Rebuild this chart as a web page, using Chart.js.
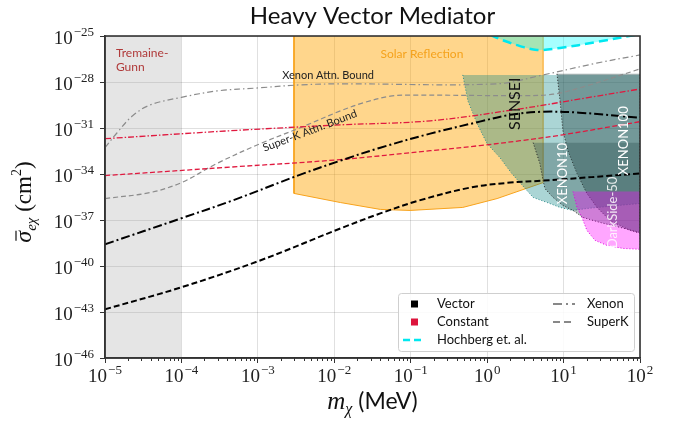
<!DOCTYPE html>
<html>
<head>
<meta charset="utf-8">
<script src="https://cdn.jsdelivr.net/npm/chart.js@4.4.1/dist/chart.umd.min.js"></script>
<style>
  html, body { margin: 0; padding: 0; background: #fff; }
  canvas { display: block; }
</style>
</head>
<body>
<canvas id="chart" width="677" height="423"></canvas>
<script>
// tick positions
const xTicks = [1e-5, 1e-4, 1e-3, 1e-2, 1e-1, 1, 10, 100];
const yTicks = [1e-46, 1e-43, 1e-40, 1e-37, 1e-34, 1e-31, 1e-28, 1e-25];

// bound curves: mass in MeV, cross section in cm^2
const vecXenonM = [1e-5, 1e-4, 4.7e-4, 3.6e-3, 1.2e-2, 4.0e-2, 0.18, 0.8, 2.0, 5.4, 16, 100];
const vecXenonS = [2.6e-39, 1.3e-37, 1.9e-36, 9.1e-35, 7.4e-34, 5.2e-33, 4.3e-32, 2.6e-31, 7.2e-31, 1.15e-30, 1.0e-30, 4.7e-31];

const vecSuperKM = [1e-5, 1e-4, 1.07e-3, 1.2e-2, 4.0e-2, 0.13, 0.6, 2.0, 5.4, 100];
const vecSuperKS = [1.5e-43, 4.1e-42, 2.3e-40, 2.8e-38, 2.7e-37, 1.9e-36, 1.3e-35, 2.75e-35, 3.7e-35, 1.07e-34];

const constXenonM = [1e-5, 4.3e-4, 1.2e-2, 0.18, 2.7, 20, 100];
const constXenonS = [2.0e-32, 6.6e-32, 1.6e-31, 2.95e-31, 1.78e-30, 9.3e-30, 3.5e-29];

const constSuperKM = [1e-5, 4.3e-4, 1.2e-2, 0.18, 0.8, 2.7, 9.8, 100];
const constSuperKS = [7.9e-35, 2.8e-34, 8.7e-34, 3.3e-33, 7.1e-33, 1.48e-32, 3.6e-32, 2.6e-31];

const xenonBoundM = [1e-5, 1.44e-5, 2.3e-5, 3.9e-5, 1e-4, 2.9e-4, 1.07e-3, 3.6e-3, 1.2e-2, 1.35, 5.4, 27, 100];
const xenonBoundS = [5.2e-33, 4.9e-32, 6.3e-31, 3.2e-30, 1.0e-29, 2.6e-29, 4.2e-29, 6.5e-29, 7.6e-29, 7.6e-29, 2.9e-28, 1.7e-27, 5.8e-27];

const superKBoundM = [1e-5, 3.9e-5, 1e-4, 2.9e-4, 1.07e-3, 3.6e-3, 1.2e-2, 2.4e-2, 5.4e-2, 9.8e-2, 2.7, 7.3, 20, 100];
const superKBoundS = [2.5e-36, 6.2e-36, 2.75e-35, 4.8e-34, 9.5e-33, 1.05e-31, 1.3e-30, 4.4e-30, 1.2e-29, 1.4e-29, 1.3e-29, 1.6e-29, 5.6e-29, 7.1e-28];

const hochbergM = [1.1, 1.19, 1.71, 2.69, 4.5, 9.0, 27.4, 100];
const hochbergS = [1.3e-25, 1e-25, 4.7e-26, 2.2e-26, 1.23e-26, 1.66e-26, 4.1e-26, 1.35e-25];

// excluded regions (closed outlines)
const tremaineM = [1e-5, 1e-4];
const tremaineS = [1e-25, 1e-25];

const solarM = [2.97e-3, 2.97e-3, 1.2e-2, 4.0e-2, 9.8e-2, 0.48, 1.35, 5.4, 5.4];
const solarS = [1e-25, 5.4e-36, 1.38e-36, 4.9e-37, 4.2e-37, 6.6e-37, 2.5e-36, 2.75e-35, 1e-25];

const senseiM = [0.48, 0.56, 0.74, 1.0, 1.47, 2.1, 2.9, 4.0, 6.1, 9.0, 13.3, 20, 37, 100, 100];
const senseiS = [2.9e-28, 5.9e-30, 1.9e-31, 9.5e-33, 1.17e-33, 1.07e-34, 1.78e-35, 2.95e-36, 1.38e-36, 6.6e-37, 4.2e-37, 5.6e-37, 7.6e-37, 1.2e-36, 2.9e-28];

const xenon100M = [8.2, 9.0, 9.8, 11.4, 15.0, 20.2, 27.4, 40.5, 74, 100, 100];
const xenon100S = [3.4e-28, 5.9e-30, 6.6e-32, 3.3e-33, 1.07e-34, 5.4e-36, 6.6e-37, 9.3e-38, 2.1e-38, 1.35e-38, 3.4e-28];

const xenon10M = [4.0, 4.9, 5.4, 5.7, 7.3, 9.8, 13.3, 17.9, 30, 55, 100, 100];
const xenon10S = [1.1e-32, 4.8e-34, 3.7e-35, 1.12e-35, 2.95e-36, 8.9e-37, 4.2e-37, 1.48e-37, 6.9e-38, 3.3e-38, 1.55e-38, 1.1e-32];

const darksideM = [13.3, 15.0, 17.4, 20.2, 25.8, 37, 60, 100, 100];
const darksideS = [7.2e-36, 6.6e-37, 1.48e-37, 2.1e-38, 4.7e-39, 2.2e-39, 1.4e-39, 1.23e-39, 7.2e-36];

// text annotations placed in data coordinates
const notes = [
  {text: 'Tremaine-', x: 1.39e-5, y: 7.9e-27, color: '#b03a3a', size: 12, rot: 0, align: 'left'},
  {text: 'Gunn', x: 1.39e-5, y: 1.0e-27, color: '#b03a3a', size: 12, rot: 0, align: 'left'},
  {text: 'Solar Reflection', x: 0.14, y: 6.8e-27, color: '#f5a21b', size: 12, rot: 0, align: 'center'},
  {text: 'Xenon Attn. Bound', x: 8.3e-3, y: 2.5e-28, color: '#222', size: 11, rot: 0, align: 'center'},
  {text: 'Super-K Attn. Bound', x: 4.8e-3, y: 6.6e-32, color: '#222', size: 11, rot: -20.7, align: 'center'},
  {text: 'SENSEI', x: 2.3, y: 3.8e-30, color: '#111', size: 16, rot: -90, align: 'center'},
  {text: 'XENON10', x: 9.8, y: 1.07e-34, color: '#fff', size: 13, rot: -90, align: 'center'},
  {text: 'XENON100', x: 62, y: 1.48e-32, color: '#fff', size: 13, rot: -90, align: 'center'},
  {text: 'DarkSide-50', x: 44, y: 3.1e-37, color: 'rgba(255,255,255,0.85)', size: 13, rot: -90, align: 'center'}
];

const legendLeft = [
  {label: 'Vector', kind: 'square', color: '#000'},
  {label: 'Constant', kind: 'square', color: '#dc143c'},
  {label: 'Hochberg et. al.', kind: 'line', color: '#00e8f0', dash: [7, 4], width: 2.5}
];
const legendRight = [
  {label: 'Xenon', kind: 'line', color: '#888', dash: [9, 4, 2, 4], width: 2},
  {label: 'SuperK', kind: 'line', color: '#888', dash: [7, 4], width: 2}
];

const SANS = 'Lato, "DejaVu Sans", sans-serif';
const SERIF = '"Liberation Serif", "DejaVu Serif", serif';

function series(xs, ys) {
  return xs.map((x, i) => ({x: x, y: ys[i]}));
}

function region(label, xs, ys, fill, border, dash, order) {
  return {
    label: label,
    data: series(xs, ys),
    fill: 'shape',
    backgroundColor: fill,
    borderColor: border,
    borderWidth: border ? 1 : 0,
    borderDash: dash || [],
    pointRadius: 0,
    tension: 0,
    order: order,
    clip: 0
  };
}

function curve(label, xs, ys, color, width, dash) {
  return {
    label: label,
    data: series(xs, ys),
    fill: false,
    borderColor: color,
    borderWidth: width,
    borderDash: dash,
    pointRadius: 0,
    tension: 0.35,
    order: 0,
    clip: 0
  };
}

const tremaine = {
  label: 'Tremaine-Gunn',
  data: series(tremaineM, tremaineS),
  fill: 'start',
  backgroundColor: 'rgba(150,150,150,0.25)',
  borderWidth: 0,
  pointRadius: 0,
  order: 9,
  clip: 0
};
const hochberg = {
  label: 'Hochberg et. al.',
  data: series(hochbergM, hochbergS),
  fill: 'end',
  backgroundColor: 'rgba(0,255,255,0.35)',
  borderColor: '#00e8f0',
  borderWidth: 2.5,
  borderDash: [9, 5],
  pointRadius: 0,
  tension: 0.35,
  order: 6,
  clip: 0
};

const datasets = [
  curve('Vector Xenon', vecXenonM, vecXenonS, '#000', 2, [9, 3, 2, 3]),
  curve('Vector SuperK', vecSuperKM, vecSuperKS, '#000', 2, [6, 3]),
  curve('Constant Xenon', constXenonM, constXenonS, '#e0193f', 1.3, [6, 2, 1.5, 2]),
  curve('Constant SuperK', constSuperKM, constSuperKS, '#e0193f', 1.3, [5, 2.5]),
  curve('Xenon Attn. Bound', xenonBoundM, xenonBoundS, '#8c8c8c', 1.2, [6, 3, 1.5, 3]),
  curve('Super-K Attn. Bound', superKBoundM, superKBoundS, '#8c8c8c', 1.2, [5, 3]),
  region('DarkSide-50', darksideM, darksideS, 'rgba(255,0,255,0.35)', '#e000e0', [1, 2], 2),
  region('XENON10', xenon10M, xenon10S, 'rgba(47,79,79,0.35)', '#222', [1, 2], 3),
  region('XENON100', xenon100M, xenon100S, 'rgba(47,79,79,0.45)', '#222', [1, 2], 4),
  region('SENSEI', senseiM, senseiS, 'rgba(0,128,128,0.33)', '#2a8a8a', [1, 2], 5),
  region('Solar Reflection', solarM, solarS, 'rgba(255,165,0,0.45)', '#f7a21b', [], 7),
  hochberg,
  tremaine
];

function powLabel(ctx, exp, x, y, align) {
  const base = '10';
  const sup = exp < 0 ? '\u2212' + (-exp) : String(exp);
  ctx.font = '19px ' + SERIF;
  const wb = ctx.measureText(base).width;
  ctx.font = '13px ' + SERIF;
  const ws = ctx.measureText(sup).width;
  const x0 = align === 'right' ? x - wb - ws - 1 : x - (wb + ws + 1) / 2;
  ctx.textAlign = 'left';
  ctx.textBaseline = 'alphabetic';
  ctx.fillStyle = '#222';
  ctx.font = '19px ' + SERIF;
  ctx.fillText(base, x0, y);
  ctx.font = '13px ' + SERIF;
  ctx.fillText(sup, x0 + wb + 1, y - 8);
}

// draws a run of [text, font, baseline shift] pieces centered on 0
function drawRun(ctx, pieces) {
  let total = 0;
  pieces.forEach(p => { ctx.font = p[1]; p.w = ctx.measureText(p[0]).width; total += p.w; });
  let x = -total / 2;
  ctx.textAlign = 'left';
  ctx.textBaseline = 'alphabetic';
  pieces.forEach(p => {
    ctx.font = p[1];
    ctx.fillText(p[0], x, p[2]);
    p.x = x;
    x += p.w;
  });
  return pieces;
}

const overlay = {
  id: 'overlay',
  afterDraw(chart) {
    const ctx = chart.ctx;
    const {left, right, top, bottom} = chart.chartArea;
    const sx = chart.scales.x, sy = chart.scales.y;
    ctx.save();

    // frame
    ctx.strokeStyle = '#333';
    ctx.lineWidth = 1.6;
    ctx.setLineDash([]);
    ctx.strokeRect(left, top, right - left, bottom - top);

    // minor x ticks
    ctx.lineWidth = 1;
    for (let d = -5; d < 2; d++) {
      for (let k = 2; k < 10; k++) {
        const px = Math.round(sx.getPixelForValue(k * Math.pow(10, d))) + 0.5;
        ctx.beginPath();
        ctx.moveTo(px, bottom);
        ctx.lineTo(px, bottom + 3);
        ctx.stroke();
      }
    }

    // tick labels
    xTicks.forEach(v => powLabel(ctx, Math.round(Math.log10(v)), sx.getPixelForValue(v), bottom + 24, 'center'));
    yTicks.forEach(v => powLabel(ctx, Math.round(Math.log10(v)), 94, sy.getPixelForValue(v) + 8, 'right'));

    // title
    ctx.fillStyle = '#111';
    ctx.font = '24px ' + SANS;
    ctx.textAlign = 'center';
    ctx.textBaseline = 'alphabetic';
    ctx.fillText('Heavy Vector Mediator', (left + right) / 2, 24);

    // x axis title
    ctx.save();
    ctx.translate((left + right) / 2, 409);
    drawRun(ctx, [
      ['m', 'italic 25px ' + SERIF, 0],
      ['\u03c7', 'italic 16px ' + SERIF, 5],
      [' (MeV)', '23px ' + SANS, 0]
    ]);
    ctx.restore();

    // y axis title
    ctx.save();
    ctx.translate(31, (top + bottom) / 2 + 5);
    ctx.rotate(-Math.PI / 2);
    const run = drawRun(ctx, [
      ['\u03c3', 'italic 24px ' + SERIF, 0],
      ['e\u03c7', 'italic 15px ' + SERIF, 5],
      [' (cm', '23px ' + SERIF, 0],
      ['2', '14px ' + SERIF, -10],
      [')', '23px ' + SERIF, 0]
    ]);
    ctx.strokeStyle = '#111';
    ctx.lineWidth = 1.2;
    ctx.beginPath();
    ctx.moveTo(run[0].x + 2, -15);
    ctx.lineTo(run[0].x + run[0].w, -15);
    ctx.stroke();
    ctx.restore();

    // annotations
    notes.forEach(n => {
      ctx.save();
      ctx.translate(sx.getPixelForValue(n.x), sy.getPixelForValue(n.y));
      ctx.rotate(n.rot * Math.PI / 180);
      ctx.fillStyle = n.color;
      ctx.font = n.size + 'px ' + SANS;
      ctx.textAlign = n.align;
      ctx.textBaseline = 'middle';
      ctx.fillText(n.text, 0, 0);
      ctx.restore();
    });

    // legend
    const lx = 398, ly = 293, lw = 236, lh = 58;
    ctx.fillStyle = 'rgba(255,255,255,0.85)';
    ctx.strokeStyle = '#cfcfcf';
    ctx.lineWidth = 1;
    ctx.beginPath();
    ctx.roundRect(lx + 0.5, ly + 0.5, lw, lh, 3);
    ctx.fill();
    ctx.stroke();
    ctx.font = '13px ' + SANS;
    ctx.textBaseline = 'middle';
    ctx.textAlign = 'left';
    const drawItem = (item, ix, iy) => {
      if (item.kind === 'square') {
        ctx.fillStyle = item.color;
        ctx.fillRect(ix + 13, iy - 3.5, 7, 7);
      } else {
        ctx.strokeStyle = item.color;
        ctx.lineWidth = item.width;
        ctx.setLineDash(item.dash);
        ctx.beginPath();
        ctx.moveTo(ix + 5, iy);
        ctx.lineTo(ix + 27, iy);
        ctx.stroke();
        ctx.setLineDash([]);
      }
      ctx.fillStyle = '#111';
      ctx.fillText(item.label, ix + 39, iy);
    };
    legendLeft.forEach((item, i) => drawItem(item, lx, ly + 11 + i * 18));
    legendRight.forEach((item, i) => drawItem(item, lx + 150, ly + 11 + i * 18));

    ctx.restore();
  }
};

new Chart(document.getElementById('chart'), {
  type: 'line',
  data: {datasets: datasets},
  plugins: [overlay],
  options: {
    responsive: false,
    animation: false,
    layout: {padding: {top: 36, right: 37, bottom: 0, left: 0}},
    plugins: {legend: {display: false}, title: {display: false}, tooltip: {enabled: false}},
    scales: {
      x: {
        type: 'logarithmic',
        min: 1e-5,
        max: 100,
        afterBuildTicks: s => { s.ticks = xTicks.map(v => ({value: v})); },
        afterFit: s => { s.height = 65; },
        ticks: {display: false},
        grid: {color: 'rgba(0,0,0,0.12)', tickColor: '#333', tickLength: 5, tickWidth: 1},
        border: {display: true, color: '#333', width: 1.6}
      },
      y: {
        type: 'logarithmic',
        min: 1e-46,
        max: 1e-25,
        afterBuildTicks: s => { s.ticks = yTicks.map(v => ({value: v})); },
        afterFit: s => { s.width = 105; },
        ticks: {display: false},
        grid: {color: 'rgba(0,0,0,0.12)', tickColor: '#333', tickLength: 5, tickWidth: 1},
        border: {display: true, color: '#333', width: 1.6}
      }
    }
  }
});
</script>
</body>
</html>
